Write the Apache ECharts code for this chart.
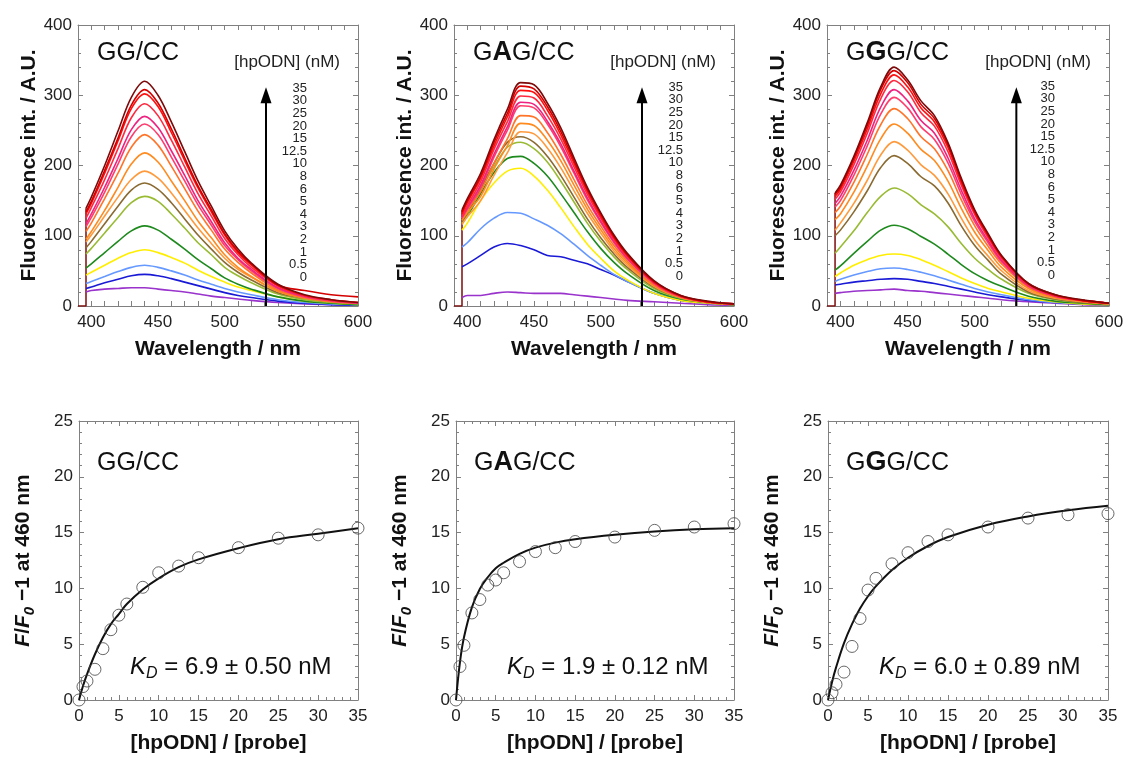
<!DOCTYPE html>
<html>
<head>
<meta charset="utf-8">
<title>hpODN titration</title>
<script src="https://cdn.jsdelivr.net/npm/echarts@6/dist/echarts.min.js"></script>
<style>
  html, body { margin: 0; padding: 0; background: #fff; }
  #chart { width: 1133px; height: 758px; }
</style>
</head>
<body>
<div id="chart"></div>
<script>
// titration points [hpODN] (nM), low -> high
const concLabels = ['0', '0.5', '1', '2', '3', '4', '5', '6', '8', '10', '12.5', '15', '20', '25', '30', '35']
const ratio = [0, 0.5, 1, 2, 3, 4, 5, 6, 8, 10, 12.5, 15, 20, 25, 30, 35]

const wavelengths = [396, 400, 410, 420, 430, 440, 450, 460, 470, 480, 490, 500, 510, 520, 540, 560, 580, 600]

// emission spectra, one row per concentration (same order as concLabels)
const spectraGG = [
  [20, 22, 24, 25, 26, 26, 24, 22, 20, 17, 14, 12, 10, 8, 5, 3, 2, 1],
  [25, 27, 33, 38, 43, 45, 43, 39, 34, 29, 24, 19, 15, 12, 7, 4, 2, 1],
  [32, 35, 42, 49, 55, 58, 55, 50, 44, 37, 31, 25, 20, 16, 9, 5, 3, 2],
  [44, 48, 58, 68, 76, 80, 76, 69, 61, 51, 42, 34, 27, 22, 13, 7, 4, 2],
  [54, 60, 76, 92, 107, 114, 108, 95, 81, 66, 53, 40, 31, 24, 13, 7, 4, 2],
  [74, 82, 104, 126, 147, 156, 149, 131, 111, 90, 73, 55, 43, 33, 17, 9, 5, 3],
  [83, 92, 117, 142, 165, 175, 166, 147, 124, 101, 81, 62, 48, 37, 19, 11, 6, 4],
  [91, 101, 128, 155, 180, 192, 182, 161, 136, 111, 89, 68, 52, 41, 21, 12, 6, 4],
  [95, 106, 136, 169, 202, 218, 205, 178, 150, 121, 97, 73, 55, 42, 21, 11, 6, 4],
  [106, 118, 153, 189, 226, 244, 229, 199, 167, 135, 108, 81, 62, 47, 23, 12, 7, 4],
  [113, 126, 162, 202, 241, 259, 244, 212, 178, 144, 115, 86, 66, 50, 25, 13, 7, 4],
  [117, 131, 169, 210, 251, 270, 254, 221, 186, 150, 120, 90, 68, 52, 26, 14, 8, 4],
  [125, 140, 180, 224, 268, 288, 271, 236, 198, 160, 128, 96, 73, 55, 28, 15, 8, 5],
  [131, 146, 189, 235, 281, 302, 284, 247, 207, 168, 134, 101, 76, 58, 29, 15, 9, 5],
  [134, 149, 193, 239, 286, 308, 289, 252, 211, 171, 137, 103, 78, 60, 30, 22, 16, 13],
  [139, 155, 200, 249, 297, 320, 300, 262, 220, 178, 142, 107, 81, 61, 31, 16, 9, 5]
]

const spectraGAG = [
  [12, 15, 15, 18, 20, 19, 18, 18, 18, 16, 14, 12, 10, 8, 6, 4, 2, 1],
  [56, 60, 72, 84, 89, 86, 80, 72, 70, 65, 60, 52, 44, 35, 18, 8, 4, 2],
  [84, 90, 110, 125, 133, 132, 124, 115, 103, 88, 72, 58, 45, 35, 18, 9, 4, 2],
  [108, 118, 150, 175, 192, 196, 185, 165, 140, 113, 88, 68, 50, 37, 18, 8, 4, 2],
  [118, 128, 160, 190, 210, 213, 203, 185, 160, 133, 106, 82, 62, 46, 22, 10, 5, 2],
  [118, 130, 165, 198, 226, 233, 224, 205, 178, 148, 118, 92, 70, 52, 25, 11, 5, 2],
  [120, 132, 168, 203, 233, 241, 233, 213, 186, 155, 124, 97, 74, 55, 27, 12, 5, 2],
  [116, 127, 150, 186, 218, 248, 245, 225, 197, 164, 132, 104, 78, 58, 28, 12, 5, 3],
  [122, 133, 156, 195, 228, 260, 257, 236, 207, 172, 138, 109, 82, 61, 29, 12, 5, 3],
  [125, 137, 163, 203, 238, 271, 269, 247, 216, 180, 144, 114, 86, 64, 30, 13, 6, 3],
  [125, 138, 169, 212, 250, 285, 282, 259, 227, 189, 151, 119, 90, 67, 32, 13, 6, 3],
  [127, 140, 172, 216, 255, 290, 287, 263, 231, 192, 154, 121, 92, 68, 33, 14, 6, 3],
  [128, 143, 177, 223, 262, 299, 296, 271, 238, 198, 159, 125, 95, 70, 34, 14, 6, 3],
  [131, 147, 182, 228, 269, 307, 304, 279, 244, 203, 163, 128, 97, 72, 34, 14, 6, 3],
  [134, 150, 185, 233, 274, 313, 309, 284, 249, 207, 166, 131, 99, 73, 35, 15, 6, 3],
  [137, 153, 189, 237, 280, 318, 315, 289, 254, 211, 169, 133, 101, 75, 36, 15, 7, 3]
]

const spectraGGG = [
  [18, 19, 21, 22, 23, 24, 22, 21, 19, 17, 15, 13, 11, 9, 6, 4, 2, 1],
  [30, 31, 34, 36, 38, 39, 38, 35, 32, 28, 24, 20, 16, 13, 8, 5, 3, 2],
  [35, 38, 44, 49, 53, 54, 52, 48, 43, 37, 31, 25, 20, 16, 9, 5, 3, 2],
  [42, 47, 58, 66, 72, 74, 72, 66, 58, 49, 40, 32, 25, 20, 11, 6, 3, 2],
  [51, 57, 75, 92, 108, 115, 110, 99, 88, 74, 59, 46, 36, 28, 14, 7, 4, 2],
  [75, 84, 107, 133, 156, 168, 160, 144, 131, 113, 89, 68, 52, 38, 18, 9, 5, 3],
  [100, 108, 134, 164, 197, 214, 203, 184, 171, 147, 114, 86, 65, 45, 20, 10, 5, 3],
  [108, 118, 146, 179, 215, 234, 222, 201, 186, 160, 125, 94, 71, 50, 22, 11, 6, 3],
  [123, 131, 162, 199, 238, 259, 246, 223, 207, 178, 139, 105, 79, 55, 25, 12, 7, 3],
  [133, 142, 176, 216, 258, 281, 267, 241, 224, 193, 151, 114, 85, 60, 27, 13, 7, 3],
  [141, 150, 186, 228, 273, 297, 282, 255, 237, 204, 159, 120, 90, 63, 28, 14, 8, 4],
  [146, 156, 193, 236, 283, 308, 292, 264, 246, 211, 165, 124, 93, 65, 29, 14, 8, 4],
  [152, 162, 201, 246, 295, 321, 305, 275, 256, 220, 172, 130, 97, 68, 30, 15, 8, 4],
  [156, 166, 206, 252, 302, 329, 312, 282, 262, 226, 176, 133, 100, 70, 31, 15, 8, 4],
  [159, 169, 210, 257, 308, 335, 318, 287, 267, 230, 179, 135, 101, 71, 32, 16, 8, 4],
  [161, 172, 213, 261, 312, 340, 322, 292, 271, 233, 182, 137, 103, 72, 32, 16, 9, 4]
]

// F/F0 - 1 at 460 nm, measured points and fitted curve (at ratio)
const respGG = [0, 1.2, 1.7, 2.75, 4.6, 6.3, 7.6, 8.6, 10.1, 11.4, 12.0, 12.75, 13.65, 14.5, 14.8, 15.4]
const fitGG = [0, 1.25, 2.3, 4.1, 5.6, 6.8, 7.7, 8.6, 9.9, 10.9, 11.9, 12.6, 13.6, 14.4, 14.9, 15.4]
const respGAG = [0, 3.0, 4.9, 7.8, 9.0, 10.3, 10.75, 11.4, 12.4, 13.3, 13.65, 14.2, 14.6, 15.2, 15.5, 15.8]
const fitGAG = [0, 3.4, 5.6, 8.3, 9.95, 11.0, 11.8, 12.3, 13.1, 13.65, 14.1, 14.4, 14.8, 15.1, 15.3, 15.4]
const respGGG = [0, 0.65, 1.4, 2.5, 4.8, 7.3, 9.85, 10.9, 12.2, 13.2, 14.2, 14.8, 15.5, 16.3, 16.6, 16.7]
const fitGGG = [0, 1.6, 2.9, 5.1, 6.8, 8.2, 9.3, 10.2, 11.65, 12.75, 13.8, 14.6, 15.7, 16.45, 17.0, 17.4]

const titles = [
  '{n|GG/CC}',
  '{n|G}{b|A}{n|G/CC}',
  '{n|G}{b|G}{n|G/CC}'
]
const kdTexts = [' = 6.9 ± 0.50 nM', ' = 1.9 ± 0.12 nM', ' = 6.0 ± 0.89 nM']

const lineColors = [
  '#9933cc', '#1a1ad6', '#6699ff', '#ffee00', '#1e8a1e', '#99bb33', '#8a6a30', '#ff9a3c',
  '#ff8a1e', '#ff7428', '#ff3d6e', '#ee2280', '#ff2a40', '#ff1010', '#d40000', '#7d0a0a'
]

const FONT = 'Liberation Sans, Arial, sans-serif'
const FRAME = '#808080'

// panel boxes in px
const topBoxes = [
  { left: 78, top: 25, width: 280, height: 281 },
  { left: 454, top: 25, width: 280, height: 281 },
  { left: 827, top: 25, width: 282, height: 281 }
]
const bottomBoxes = [
  { left: 79, top: 421, width: 279, height: 279 },
  { left: 456, top: 421, width: 278, height: 279 },
  { left: 828, top: 421, width: 280, height: 279 }
]

const ARROW_X = 531

function axis (gridIndex, position, extra) {
  const mirror = position === 'top' || position === 'right'
  return Object.assign({
    type: 'value',
    gridIndex,
    position,
    axisLine: { show: true, onZero: false, lineStyle: { color: FRAME, width: 1 } },
    axisTick: { show: true, inside: true, length: 5, lineStyle: { color: FRAME } },
    minorTick: { show: true, splitNumber: 5, length: 3, lineStyle: { color: FRAME } },
    splitLine: { show: false },
    axisLabel: { show: !mirror, color: '#222', fontSize: 17, fontFamily: FONT }
  }, extra)
}

const grid = []
const xAxis = []
const yAxis = []
const series = []
const graphic = []

const nameStyle = { color: '#111', fontSize: 21, fontWeight: 'bold', fontFamily: FONT }

// spectra row
;[spectraGG, spectraGAG, spectraGGG].forEach((set, p) => {
  const g = grid.length
  grid.push(Object.assign({}, topBoxes[p]))
  const xExtra = {
    min: 390,
    max: 600,
    interval: 10,
    minorTick: { show: false }
  }
  xAxis.push(axis(g, 'bottom', Object.assign({}, xExtra, {
    name: 'Wavelength / nm',
    nameLocation: 'middle',
    nameGap: 33,
    nameTextStyle: nameStyle,
    axisLabel: {
      color: '#222', fontSize: 17, fontFamily: FONT, margin: 8,
      formatter: v => (v % 50 === 0 ? String(v) : '')
    }
  })))
  xAxis.push(axis(g, 'top', xExtra))
  const yExtra = { min: 0, max: 400, interval: 100 }
  yAxis.push(axis(g, 'left', Object.assign({}, yExtra, {
    name: 'Fluorescence int. / A.U.',
    nameLocation: 'middle',
    nameGap: 32,
    nameTextStyle: nameStyle,
    axisLabel: { color: '#222', fontSize: 17, fontFamily: FONT, margin: 6 }
  })))
  yAxis.push(axis(g, 'right', yExtra))

  const ax = g * 2
  const last = set[set.length - 1]
  // flat zero part and the jump at the excitation cut-off
  series.push({
    type: 'line',
    xAxisIndex: ax,
    yAxisIndex: ax,
    data: [[390, 0], [wavelengths[0], 0], [wavelengths[0], last[0]]],
    showSymbol: false,
    lineStyle: { color: lineColors[15], width: 1.5 },
    silent: true
  })
  set.forEach((vals, i) => {
    series.push({
      type: 'line',
      name: concLabels[i],
      xAxisIndex: ax,
      yAxisIndex: ax,
      data: wavelengths.map((w, k) => [w, vals[k]]),
      smooth: 0.35,
      showSymbol: false,
      lineStyle: { color: lineColors[i], width: 1.6 },
      silent: true
    })
  })
  // arrow: increasing concentration
  series.push({
    type: 'line',
    xAxisIndex: ax,
    yAxisIndex: ax,
    data: [
      { value: [ARROW_X, 0], symbol: 'none' },
      { value: [ARROW_X, 300], symbol: 'triangle', symbolSize: [11, 16] }
    ],
    showSymbol: true,
    lineStyle: { color: '#000', width: 2 },
    itemStyle: { color: '#000' },
    z: 5,
    silent: true
  })

  const b = topBoxes[p]
  graphic.push({
    type: 'text',
    x: b.left + 19,
    y: 53,
    style: {
      text: titles[p],
      verticalAlign: 'middle',
      rich: {
        n: { fontSize: 25, fontFamily: FONT, fill: '#111' },
        b: { fontSize: 27, fontWeight: 'bold', fontFamily: FONT, fill: '#111' }
      }
    }
  })
  graphic.push({
    type: 'text',
    x: b.left + b.width - 18,
    y: 62,
    style: {
      text: '[hpODN] (nM)',
      align: 'right',
      verticalAlign: 'middle',
      fontSize: 17,
      fontFamily: FONT,
      fill: '#222'
    }
  })
  graphic.push({
    type: 'text',
    x: [307, 683, 1055][p],
    y: [82, 81, 80][p],
    style: {
      text: concLabels.slice().reverse().join('\n'),
      align: 'right',
      verticalAlign: 'top',
      fontSize: 13,
      lineHeight: 12.6,
      fontFamily: FONT,
      fill: '#222'
    }
  })
})

// binding isotherm row
;[[respGG, fitGG], [respGAG, fitGAG], [respGGG, fitGGG]].forEach(([resp, fit], p) => {
  const g = grid.length
  grid.push(Object.assign({}, bottomBoxes[p]))
  const xExtra = { min: 0, max: 35, interval: 5 }
  xAxis.push(axis(g, 'bottom', Object.assign({}, xExtra, {
    name: '[hpODN] / [probe]',
    nameLocation: 'middle',
    nameGap: 33,
    nameTextStyle: nameStyle,
    axisLabel: { color: '#222', fontSize: 17, fontFamily: FONT, margin: 8 }
  })))
  xAxis.push(axis(g, 'top', xExtra))
  const yExtra = { min: 0, max: 25, interval: 5 }
  yAxis.push(axis(g, 'left', Object.assign({}, yExtra, {
    name: '{i|F}{b|/}{i|F}{s|0}{b| \u22121 at 460 nm}',
    nameLocation: 'middle',
    nameGap: 42,
    nameTextStyle: {
      rich: {
        i: { fontSize: 21, fontWeight: 'bold', fontStyle: 'italic', fontFamily: FONT, color: '#111', lineHeight: 28 },
        b: { fontSize: 21, fontWeight: 'bold', fontFamily: FONT, color: '#111', lineHeight: 28 },
        s: { fontSize: 15, fontWeight: 'bold', fontStyle: 'italic', fontFamily: FONT, color: '#111', verticalAlign: 'bottom' }
      }
    },
    axisLabel: { color: '#222', fontSize: 17, fontFamily: FONT, margin: 6 }
  })))
  yAxis.push(axis(g, 'right', yExtra))

  const ax = g * 2
  series.push({
    type: 'line',
    xAxisIndex: ax,
    yAxisIndex: ax,
    data: ratio.map((r, k) => [r, fit[k]]),
    smooth: 0.4,
    showSymbol: false,
    lineStyle: { color: '#111', width: 2 },
    silent: true
  })
  series.push({
    type: 'scatter',
    xAxisIndex: ax,
    yAxisIndex: ax,
    data: ratio.map((r, k) => [r, resp[k]]),
    symbol: 'circle',
    symbolSize: 12,
    clip: false,
    itemStyle: { color: 'rgba(0,0,0,0)', borderColor: '#444', borderWidth: 1 },
    z: 4,
    silent: true
  })

  const b = bottomBoxes[p]
  graphic.push({
    type: 'text',
    x: b.left + 18,
    y: 463,
    style: {
      text: titles[p],
      verticalAlign: 'middle',
      rich: {
        n: { fontSize: 25, fontFamily: FONT, fill: '#111' },
        b: { fontSize: 27, fontWeight: 'bold', fontFamily: FONT, fill: '#111' }
      }
    }
  })
  graphic.push({
    type: 'text',
    x: b.left + 51,
    y: 667,
    style: {
      text: '{k|K}{s|D}{n|' + kdTexts[p] + '}',
      verticalAlign: 'middle',
      rich: {
        k: { fontSize: 24, fontStyle: 'italic', fontFamily: FONT, fill: '#111', lineHeight: 30 },
        s: { fontSize: 16, fontStyle: 'italic', fontFamily: FONT, fill: '#111', verticalAlign: 'bottom' },
        n: { fontSize: 24, fontFamily: FONT, fill: '#111', lineHeight: 30 }
      }
    }
  })
})

const chart = echarts.init(document.getElementById('chart'), null, { renderer: 'canvas' })
chart.setOption({
  animation: false,
  backgroundColor: '#fff',
  grid,
  xAxis,
  yAxis,
  series,
  graphic
})
</script>
</body>
</html>
